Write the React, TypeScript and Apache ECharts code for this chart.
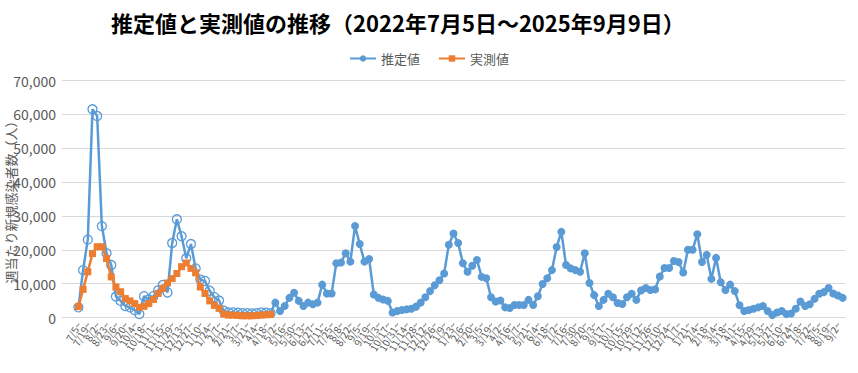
import React, { useEffect, useRef } from "react";
import * as echarts from "echarts";

const titleText = "推定値と実測値の推移（2022年7月5日～2025年9月9日）";
const seriesNames = ["推定値", "実測値"];
const yAxisName = "週当たり新規感染者数（人）";

const weekStarts = [
  "7/5","7/12","7/19","7/26","8/2","8/9","8/23","8/30","9/6","9/13","9/20","9/27","10/4","10/11","10/18","10/25","11/1","11/8","11/15","11/22","11/29","12/6","12/13","12/20","12/27",
  "1/3","1/10","1/17","1/24","1/31","2/7","2/14","2/21","2/28","3/7","3/14","3/21","3/28","4/4","4/11","4/18","4/25","5/2","5/9","5/16","5/23","5/30","6/6","6/13","6/20","6/27","7/4","7/11","7/18","7/25","8/1","8/8","8/15","8/22","8/29","9/5","9/12","9/19","9/26","10/3","10/10","10/17","10/24","10/31","11/7","11/14","11/21","11/28","12/5","12/12","12/19","12/26",
  "1/2","1/9","1/16","1/23","1/30","2/6","2/13","2/20","2/27","3/5","3/12","3/19","3/26","4/2","4/9","4/16","4/23","5/7","5/14","5/21","5/28","6/4","6/11","6/18","6/25","7/2","7/9","7/16","7/23","7/30","8/6","8/20","8/27","9/3","9/10","9/17","9/24","10/1","10/8","10/15","10/22","10/29","11/5","11/12","11/19","11/26","12/3","12/10","12/17","12/24","12/31",
  "1/7","1/14","1/21","1/28","2/4","2/11","2/18","2/25","3/4","3/11","3/18","3/25","4/1","4/8","4/15","4/22","4/29","5/6","5/13","5/20","5/27","6/3","6/10","6/17","6/24","7/1","7/8","7/15","7/22","7/29","8/5","8/12","8/19","8/26","9/2","9/9",
];

const estimated = [
  3000, 14000, 23000, 61500, 59500, 27000, 19000, 15500, 6200, 4900,
  3400, 3000, 2200, 1000, 6300, 5300, 6300, 8000, 9600, 7400,
  22000, 29000, 24000, 17500, 21700, 14500, 11200, 10800, 7900, 6000,
  5000, 2000, 1500, 1500, 1400, 1300, 1300, 1200, 1300, 1500,
  1400, 1300, 4400, 1900, 3400, 5800, 7300, 4900, 3400, 4400,
  3900, 4400, 9700, 7100, 7100, 16000, 16200, 19000, 16500, 27000,
  21700, 16500, 17300, 6800, 5800, 5300, 4900, 1500, 1900, 2200,
  2400, 2600, 3200, 4400, 6000, 7800, 9500, 11000, 13000, 21500,
  24800, 22000, 16000, 13500, 15300, 17000, 12000, 11600, 6000, 4700,
  5000, 3000, 2800, 3700, 3700, 3700, 5200, 3700, 6300, 9900,
  11600, 14000, 20800, 25300, 15500, 14500, 14000, 13500, 19000, 10200,
  6600, 3400, 5200, 7000, 6000, 4300, 4000, 6000, 7000, 5200,
  8000, 8700, 8100, 8300, 12100, 14600, 14600, 16700, 16400, 13300,
  20000, 20000, 24600, 16400, 18500, 11400, 17600, 10400, 8100, 9700,
  7800, 3600, 1900, 2200, 2600, 3000, 3400, 1900, 700, 1500,
  1900, 1000, 1200, 2600, 4700, 3400, 3900, 5500, 7000, 7500,
  8700, 7100, 6500, 5800,
];

const measured = [
  3200, 8300, 13500, 18900, 20900, 20900, 17400, 12000, 9000, 7600,
  5600, 4900, 4100, 3000, 3300, 4100, 5300, 7100, 8600, 10200,
  11500, 13000, 15000, 16100, 14500, 13200, 9000, 7100, 4900, 3600,
  2700, 1000, 700, 700, 600, 500, 500, 500, 600, 700,
  800, 900,
];

const yTicks = { min: 0, max: 70000, interval: 10000 };

const BLUE = "#5B9BD5";
const ORANGE = "#ED7D31";
const GRAY = "#595959";
const FONT = "'Noto Sans CJK JP', 'Noto Sans', sans-serif";
const LEAD = 3; // empty slots before the first week (plot padding)

export default function App() {
  const ref = useRef<HTMLDivElement>(null);
  useEffect(() => {
    document.body.style.margin = "0";
    if (!ref.current) return;
    const chart = echarts.init(ref.current, null, { renderer: "svg" });
    const pad = new Array(LEAD).fill(null);
    const cats = [...new Array(LEAD).fill(""), ...weekStarts.map((d) => d + "~")];
    const hollowCount = measured.length;
    const blueData = [
      ...pad,
      ...estimated.map((v, i) =>
        i < hollowCount
          ? {
              value: v,
              symbolSize: 9,
              itemStyle: { color: "rgba(255,255,255,0)", borderColor: BLUE, borderWidth: 1.3 },
            }
          : { value: v, symbolSize: 8, itemStyle: { color: BLUE, borderColor: BLUE, borderWidth: 0 } }
      ),
    ];
    const orangeData = [...pad, ...measured];
    chart.setOption({
      animation: false,
      backgroundColor: "#ffffff",
      textStyle: { fontFamily: FONT },
      title: {
        text: titleText,
        left: 106,
        top: 6,
        textStyle: { fontSize: 22, fontWeight: "bold", color: "#000", fontFamily: FONT },
      },
      legend: {
        top: 47,
        left: "center",
        itemWidth: 26,
        itemHeight: 8,
        itemGap: 18,
        textStyle: { fontSize: 13, color: GRAY, fontFamily: FONT },
        data: seriesNames,
      },
      grid: {
        left: 62,
        right: 13,
        top: 80.5,
        bottom: 55.5,
        containLabel: false,
        outerBoundsMode: "none",
      },
      xAxis: {
        type: "category",
        data: cats,
        boundaryGap: true,
        axisLine: { show: true, lineStyle: { color: "#d9d9d9", width: 1 } },
        axisTick: { show: false },
        axisLabel: {
          interval: 0,
          formatter: (value: string, idx: number) =>
            idx >= LEAD && (idx - LEAD) % 2 === 0 ? value : "",
          rotate: 60,
          fontSize: 10,
          color: GRAY,
          margin: 5,
          fontFamily: FONT,
          hideOverlap: false,
        },
      },
      yAxis: {
        type: "value",
        min: yTicks.min,
        max: yTicks.max,
        interval: yTicks.interval,
        name: yAxisName,
        nameLocation: "middle",
        nameGap: 45,
        nameMoveOverlap: false,
        nameTextStyle: { fontSize: 13, color: GRAY, fontFamily: FONT },
        axisLine: { show: false },
        axisTick: { show: false },
        splitLine: { lineStyle: { color: "#d9d9d9", width: 1 } },
        axisLabel: {
          fontSize: 14,
          color: GRAY,
          margin: 6,
          fontFamily: FONT,
          formatter: (v: number) => v.toLocaleString("en-US"),
        },
      },
      series: [
        {
          name: seriesNames[0],
          type: "line",
          data: blueData,
          symbol: "circle",
          symbolSize: 8,
          lineStyle: { color: BLUE, width: 2.5 },
          itemStyle: { color: BLUE },
          z: 2,
        },
        {
          name: seriesNames[1],
          type: "line",
          data: orangeData,
          symbol: "rect",
          symbolSize: 7,
          lineStyle: { color: ORANGE, width: 2.5 },
          itemStyle: { color: ORANGE },
          z: 3,
        },
      ],
    });
    return () => chart.dispose();
  }, []);
  return <div ref={ref} style={{ width: 858, height: 373 }} />;
}
